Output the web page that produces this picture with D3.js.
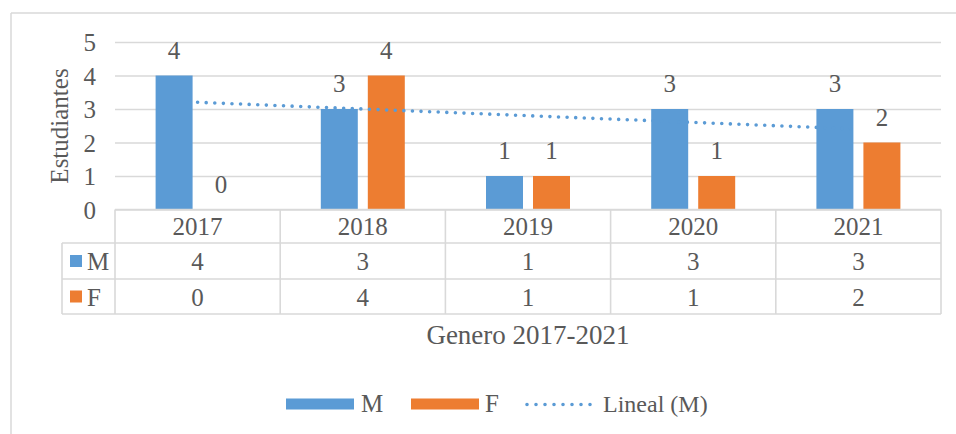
<!DOCTYPE html>
<html>
<head>
<meta charset="utf-8">
<script src="https://cdn.jsdelivr.net/npm/d3@7"></script>
<style>
  body { margin: 0; background: #fff; }
  svg text { font-family: "Liberation Serif", "Times New Roman", serif; fill: #595959; }
</style>
</head>
<body>
<svg width="956" height="434"></svg>
<script>
// datos del grafico
const years = ["2017", "2018", "2019", "2020", "2021"];
const seriesNames = ["M", "F"];
const valuesM = [4, 3, 1, 3, 3];
const valuesF = [0, 4, 1, 1, 2];
const yTicks = [0, 1, 2, 3, 4, 5];
const yLabel = "Estudiantes";
const xTitle = "Genero 2017-2021";
const trendName = "Lineal (M)";

const colors = { M: "#5B9BD5", F: "#ED7D31" };
const grid = "#D9D9D9";

const svg = d3.select("svg");

// marco exterior (solo arriba e izquierda visibles)
svg.append("line").attr("x1", 11).attr("y1", 13).attr("x2", 956).attr("y2", 13)
  .attr("stroke", grid).attr("stroke-width", 1.5);
svg.append("line").attr("x1", 11).attr("y1", 13).attr("x2", 11).attr("y2", 434)
  .attr("stroke", grid).attr("stroke-width", 1.5);

const left = 115, right = 941;
const xScale = d3.scaleBand().domain(years).range([left, right]).padding(0);
const xSub = d3.scaleBand().domain(seriesNames).range([0, xScale.bandwidth()])
  .paddingInner(0.213).paddingOuter(0.864);
const yScale = d3.scaleLinear().domain([0, 5]).range([209.5, 42]);

// lineas de cuadricula
svg.append("g")
  .attr("transform", `translate(${left},0)`)
  .call(d3.axisLeft(yScale).tickValues(yTicks).tickSize(-(right - left)).tickFormat(""))
  .call(g => g.select(".domain").remove())
  .call(g => g.selectAll("line").attr("stroke", grid).attr("stroke-width", 1.3));

// etiquetas eje y
svg.append("g").selectAll("text")
  .data(yTicks)
  .join("text")
  .attr("x", 96)
  .attr("y", d => yScale(d) + 9)
  .attr("text-anchor", "end")
  .attr("font-size", 25)
  .text(d => d);

svg.append("text")
  .attr("transform", `translate(68, ${126}) rotate(-90)`)
  .attr("text-anchor", "middle")
  .attr("font-size", 25)
  .text(yLabel);

// barras
const rows = years.map((y, i) => ({ year: y, M: valuesM[i], F: valuesF[i] }));

const groups = svg.append("g").selectAll("g")
  .data(rows)
  .join("g")
  .attr("transform", d => `translate(${xScale(d.year)},0)`);

groups.selectAll("rect")
  .data(d => seriesNames.map(k => ({ key: k, value: d[k] })))
  .join("rect")
  .attr("x", d => xSub(d.key))
  .attr("width", xSub.bandwidth())
  .attr("y", d => yScale(d.value))
  .attr("height", d => yScale(0) - yScale(d.value))
  .attr("fill", d => colors[d.key]);

groups.selectAll("text")
  .data(d => seriesNames.map(k => ({ key: k, value: d[k] })))
  .join("text")
  .attr("x", d => xSub(d.key) + xSub.bandwidth() / 2)
  .attr("y", d => yScale(d.value) - 17)
  .attr("text-anchor", "middle")
  .attr("font-size", 25)
  .text(d => d.value);

// linea de tendencia lineal (M)
const xs = valuesM.map((v, i) => i + 1);
const mx = d3.mean(xs), my = d3.mean(valuesM);
const slope = d3.sum(xs, (x, i) => (x - mx) * (valuesM[i] - my)) / d3.sum(xs, x => (x - mx) ** 2);
const intercept = my - slope * mx;
const trend = [1, 5].map(x => ({ year: years[x - 1], v: intercept + slope * x }));

svg.append("path")
  .datum(trend)
  .attr("d", d3.line()
    .x(d => xScale(d.year) + xScale.bandwidth() / 2)
    .y(d => yScale(d.v)))
  .attr("fill", "none")
  .attr("stroke", colors.M)
  .attr("stroke-width", 3.6)
  .attr("stroke-linecap", "round")
  .attr("stroke-dasharray", "0 8.6");

// tabla de datos
const rowTop = [209.5, 243, 279, 314];
const tableLeft = 62;
const tbl = svg.append("g").attr("stroke", grid).attr("stroke-width", 1.6);
// horizontales
tbl.append("line").attr("x1", left).attr("x2", right).attr("y1", rowTop[0]).attr("y2", rowTop[0]);
rowTop.slice(1).forEach(y => {
  tbl.append("line").attr("x1", tableLeft).attr("x2", right).attr("y1", y).attr("y2", y);
});
// verticales
years.forEach(y => {
  tbl.append("line").attr("x1", xScale(y)).attr("x2", xScale(y)).attr("y1", rowTop[0]).attr("y2", rowTop[3]);
});
tbl.append("line").attr("x1", right).attr("x2", right).attr("y1", rowTop[0]).attr("y2", rowTop[3]);
tbl.append("line").attr("x1", tableLeft).attr("x2", tableLeft).attr("y1", rowTop[1]).attr("y2", rowTop[3]);

// encabezados de años
svg.append("g").selectAll("text")
  .data(years)
  .join("text")
  .attr("x", d => xScale(d) + xScale.bandwidth() / 2)
  .attr("y", (rowTop[0] + rowTop[1]) / 2 + 9)
  .attr("text-anchor", "middle")
  .attr("font-size", 25)
  .text(d => d);

[valuesM, valuesF].forEach((vals, r) => {
  const cy = (rowTop[r + 1] + rowTop[r + 2]) / 2;
  svg.append("rect")
    .attr("x", 70).attr("y", cy - 6).attr("width", 12).attr("height", 12)
    .attr("fill", colors[seriesNames[r]]);
  svg.append("text")
    .attr("x", 87).attr("y", cy + 9)
    .attr("font-size", 25)
    .text(seriesNames[r]);
  svg.append("g").selectAll("text")
    .data(vals)
    .join("text")
    .attr("x", (d, i) => xScale(years[i]) + xScale.bandwidth() / 2)
    .attr("y", cy + 9)
    .attr("text-anchor", "middle")
    .attr("font-size", 25)
    .text(d => d);
});

// titulo eje x
svg.append("text")
  .attr("x", 528)
  .attr("y", 344)
  .attr("text-anchor", "middle")
  .attr("font-size", 27)
  .text(xTitle);

// leyenda
const leg = svg.append("g");
leg.append("rect").attr("x", 286).attr("y", 398.5).attr("width", 68).attr("height", 11).attr("fill", colors.M);
leg.append("text").attr("x", 361).attr("y", 412).attr("font-size", 25).text(seriesNames[0]);
leg.append("rect").attr("x", 411).attr("y", 398.5).attr("width", 68).attr("height", 11).attr("fill", colors.F);
leg.append("text").attr("x", 485).attr("y", 412).attr("font-size", 25).text(seriesNames[1]);
leg.append("line").attr("x1", 527).attr("x2", 591).attr("y1", 404.5).attr("y2", 404.5)
  .attr("stroke", colors.M).attr("stroke-width", 3.6)
  .attr("stroke-linecap", "round").attr("stroke-dasharray", "0 9");
leg.append("text").attr("x", 603).attr("y", 412).attr("font-size", 24).text(trendName);
</script>
</body>
</html>
